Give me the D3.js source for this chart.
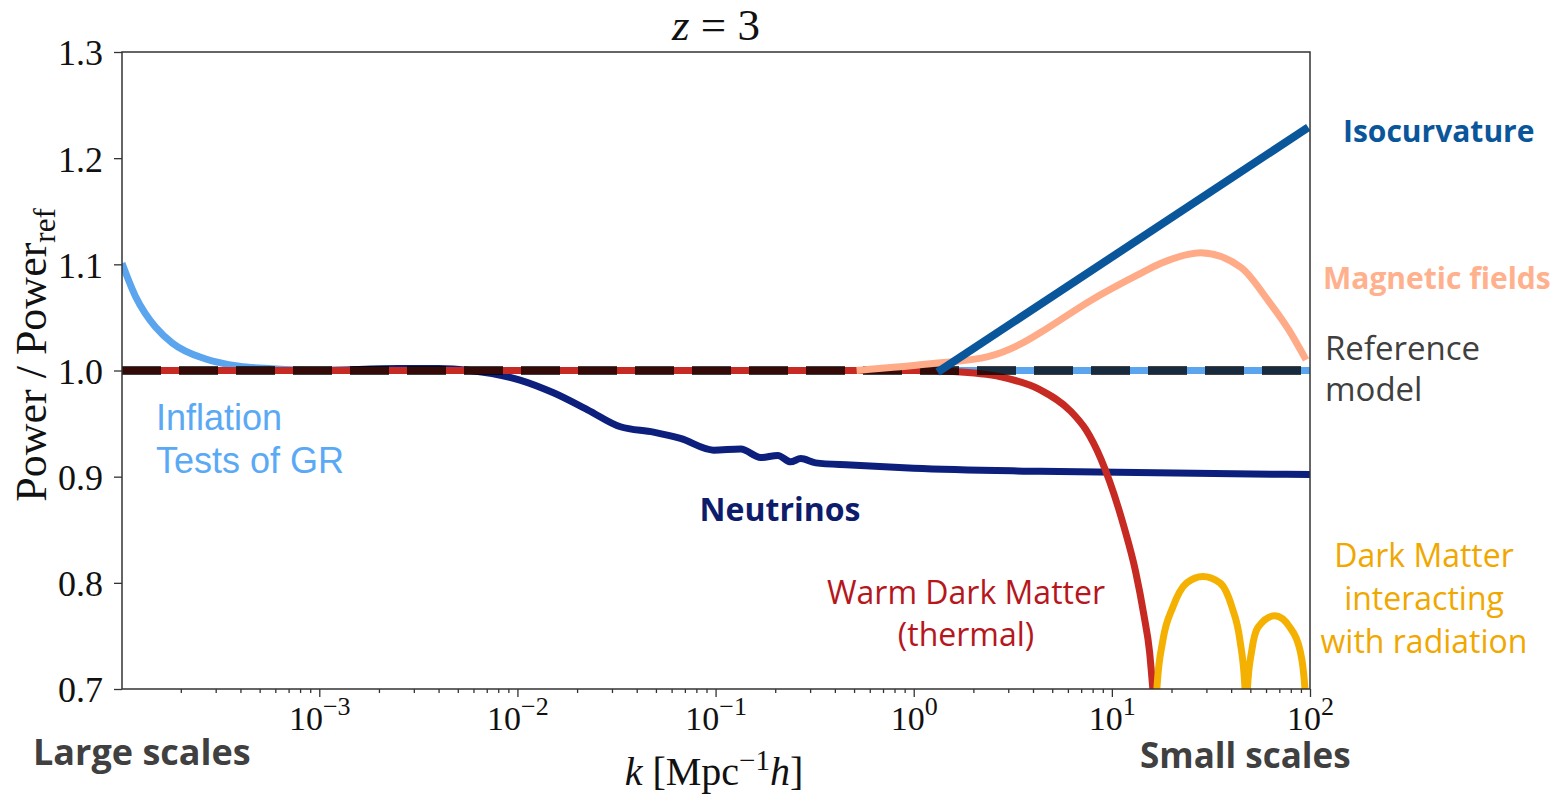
<!DOCTYPE html>
<html>
<head>
<meta charset="utf-8">
<script src="https://cdn.jsdelivr.net/npm/d3@7"></script>
<style>
  body { margin: 0; background: #fff; }
  svg { display: block; }
</style>
</head>
<body>
<div id="chart"></div>
<script>
// k in Mpc^-1 h, values are Power / Power_ref
const refK = [1.01e-4, 100];
const refVal = [1.0, 1.0];

const inflK = [1.01e-4, 1.18e-4, 1.32e-4, 1.49e-4, 1.81e-4, 2.65e-4, 3.94e-4, 5.79e-4, 1.01e-3, 1e-2, 1, 100];
const inflVal = [1.101, 1.070, 1.054, 1.041, 1.026, 1.011, 1.004, 1.0017, 1.0002, 1.0, 1.0, 1.0];

const wdmK = [1.01e-4, 0.01, 1, 1.58, 2.75, 4.33, 6.17, 7.41, 8.79, 11.5, 13.2, 14.5, 15.5, 16.1, 17.0];
const wdmVal = [1.0, 1.0, 1.0, 0.999, 0.994, 0.982, 0.962, 0.944, 0.917, 0.853, 0.81, 0.77, 0.735, 0.70, 0.65];

const nuK = [1.01e-4, 1e-3, 2.5e-3, 4e-3, 5.8e-3, 1.03e-2, 1.52e-2, 2.26e-2, 3.31e-2, 4.86e-2, 6.65e-2, 9.77e-2,
  0.134, 0.169, 0.206, 0.239, 0.269, 0.32, 0.481, 1, 4.33, 100];
const nuVal = [1.0, 1.0, 1.002, 1.002, 1.0, 0.991, 0.979, 0.963, 0.947, 0.942, 0.936, 0.925,
  0.926, 0.918, 0.92, 0.914, 0.917, 0.913, 0.911, 0.908, 0.905, 0.902];

const magK = [0.515, 1.32, 2.37, 3.47, 4.38, 7.83, 13.5, 17.7, 28.1, 44.9, 61.4, 78.3, 95.5];
const magVal = [1.0, 1.007, 1.013, 1.025, 1.036, 1.066, 1.09, 1.101, 1.111, 1.097, 1.066, 1.038, 1.01];

const isoK = [1.32, 98];
const isoVal = [0.9985, 1.229];

const dmrK = [16.5, 16.9, 18.1, 20.3, 23.9, 28.8, 35.1, 40.4, 44.3, 47.0, 47.6, 48.3, 50.9, 54.6, 66.5, 79.2, 88.9, 94.3, 96.5];
const dmrVal = [0.66, 0.702, 0.746, 0.777, 0.800, 0.806, 0.800, 0.777, 0.746, 0.70, 0.64, 0.70, 0.737, 0.758, 0.769, 0.758, 0.737, 0.70, 0.66];

const yTicks = [0.7, 0.8, 0.9, 1.0, 1.1, 1.2, 1.3];
const xTicks = [1e-3, 1e-2, 1e-1, 1e0, 1e1, 1e2];
const xExps = ["−3", "−2", "−1", "0", "1", "2"];

const width = 1561;
const height = 794;
const margin = {left: 122, right: 251, top: 52, bottom: 105};
const plotW = width - margin.left - margin.right;
const plotH = height - margin.top - margin.bottom;

const svg = d3.select("#chart")
  .append("svg")
  .attr("width", width)
  .attr("height", height);

const x = d3.scaleLog().domain([1.01e-4, 100]).range([margin.left, margin.left + plotW]);
const y = d3.scaleLinear().domain([0.7, 1.3]).range([margin.top + plotH, margin.top]);

svg.append("clipPath").attr("id", "plotclip")
  .append("rect")
  .attr("x", margin.left).attr("y", margin.top)
  .attr("width", plotW).attr("height", plotH);

const serif = "'Liberation Serif', 'DejaVu Serif', serif";
const sans = "'Open Sans', Lato, sans-serif";

// axes
const minor = [];
for (let e = -4; e <= 1; e++) {
  for (let m = 2; m <= 9; m++) {
    const v = m * Math.pow(10, e);
    if (v >= 1.01e-4 && v <= 100) minor.push(v);
  }
}

svg.append("g")
  .attr("transform", `translate(0,${margin.top + plotH})`)
  .call(d3.axisBottom(x).tickValues(minor).tickSize(4).tickFormat(""));

const gx = svg.append("g")
  .attr("transform", `translate(0,${margin.top + plotH})`)
  .call(d3.axisBottom(x).tickValues(xTicks).tickSize(8).tickFormat(""));

gx.selectAll(".tick").append("text")
  .attr("fill", "#111")
  .attr("y", 41)
  .style("font-family", serif)
  .style("font-size", "34px")
  .attr("text-anchor", "middle")
  .each(function(d, i) {
    const t = d3.select(this);
    t.append("tspan").text("10");
    t.append("tspan").attr("dy", -15).style("font-size", "26px").text(xExps[i]);
  });

const gy = svg.append("g")
  .attr("transform", `translate(${margin.left},0)`)
  .call(d3.axisLeft(y).tickValues(yTicks).tickSize(8).tickPadding(11).tickFormat(d3.format(".1f")));

gy.selectAll("text")
  .attr("fill", "#111")
  .attr("dy", "0.36em")
  .style("font-family", serif)
  .style("font-size", "36px");

svg.selectAll(".domain").remove();
svg.selectAll(".tick line").attr("stroke", "#333").attr("stroke-width", 1.3);

// curves
const line = d3.line()
  .x(d => x(d[0]))
  .y(d => y(d[1]));

const plot = svg.append("g").attr("clip-path", "url(#plotclip)");

const drawSeries = (ks, vals, color, w, curve) => {
  line.curve(curve || d3.curveMonotoneX);
  return plot.append("path")
    .datum(ks.map((k, i) => [k, vals[i]]))
    .attr("fill", "none")
    .attr("stroke", color)
    .attr("stroke-width", w)
    .attr("stroke-linejoin", "round")
    .attr("d", line);
};

drawSeries(inflK, inflVal, "#5ba4ee", 7);
drawSeries(nuK, nuVal, "#0d1f7c", 7);
drawSeries(wdmK, wdmVal, "#c62a22", 7);

// reference model, dashed on top
drawSeries(refK, refVal, "#000", 9, d3.curveLinear)
  .attr("stroke-dasharray", "39,18")
  .attr("stroke-opacity", 0.74);

drawSeries(magK, magVal, "#ffab88", 7);
drawSeries(isoK, isoVal, "#0a569b", 8, d3.curveLinear);
drawSeries(dmrK, dmrVal, "#f5b102", 7);

// frame
svg.append("rect")
  .attr("x", margin.left).attr("y", margin.top)
  .attr("width", plotW).attr("height", plotH)
  .attr("fill", "none")
  .attr("stroke", "#333")
  .attr("stroke-width", 1.5);

// title and axis labels
const title = svg.append("text")
  .attr("x", 716).attr("y", 40)
  .attr("text-anchor", "middle")
  .style("font-family", serif)
  .style("font-size", "45px")
  .attr("fill", "#111");
title.append("tspan").style("font-style", "italic").text("z");
title.append("tspan").text(" = 3");

const xl = svg.append("text")
  .attr("x", 714).attr("y", 785)
  .attr("text-anchor", "middle")
  .style("font-family", serif)
  .style("font-size", "40px")
  .attr("fill", "#111");
xl.append("tspan").style("font-style", "italic").text("k");
xl.append("tspan").text(" [Mpc");
xl.append("tspan").attr("dy", -15).style("font-size", "29px").text("−1");
xl.append("tspan").attr("dy", 15).style("font-style", "italic").text("h");
xl.append("tspan").text("]");

const yl = svg.append("text")
  .attr("transform", "translate(46,355) rotate(-90)")
  .attr("text-anchor", "middle")
  .style("font-family", serif)
  .style("font-size", "44px")
  .attr("fill", "#111");
yl.append("tspan").text("Power / Power");
yl.append("tspan").attr("dy", 9).style("font-size", "31px").text("ref");

// annotations
const note = (lines, xPos, yPos, color, size, anchor, weight, family, gap) => {
  const t = svg.append("text")
    .attr("x", xPos).attr("y", yPos)
    .attr("text-anchor", anchor)
    .attr("fill", color)
    .style("font-family", family || sans)
    .style("font-size", size + "px")
    .style("font-weight", weight);
  lines.forEach((s, i) => {
    t.append("tspan").attr("x", xPos).attr("dy", i === 0 ? 0 : gap).text(s);
  });
};

note(["Isocurvature"], 1343, 142, "#0a569b", 30, "start", 700, sans, 0);
note(["Magnetic fields"], 1323, 289, "#ffb08c", 30, "start", 700, sans, 0);
note(["Reference", "model"], 1325, 360, "#404040", 33, "start", 500, sans, 41);
note(["Inflation", "Tests of GR"], 156, 430, "#5aa9f5", 36, "start", 400, "'Liberation Sans', Arial, sans-serif", 43);
note(["Neutrinos"], 780, 521, "#0e1c6c", 32, "middle", 700, sans, 0);
note(["Warm Dark Matter", "(thermal)"], 966, 604, "#b5171d", 32, "middle", 500, sans, 42);
note(["Dark Matter", "interacting", "with radiation"], 1424, 567, "#f0a800", 32, "middle", 500, sans, 43);
note(["Large scales"], 33, 765, "#404040", 36, "start", 700, sans, 0);
note(["Small scales"], 1140, 768, "#404040", 35, "start", 700, sans, 0);
</script>
</body>
</html>
